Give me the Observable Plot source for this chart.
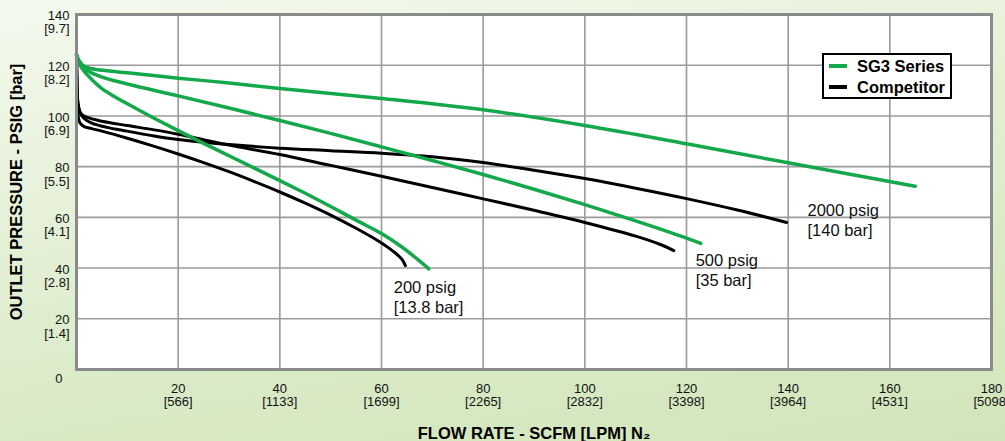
<!DOCTYPE html>
<html>
<head>
<meta charset="utf-8">
<script src="https://cdn.jsdelivr.net/npm/d3@7"></script>
<script src="https://cdn.jsdelivr.net/npm/@observablehq/plot@0.6"></script>
<style>
  html, body { margin: 0; padding: 0; width: 1005px; height: 441px; overflow: hidden; }
  body {
    position: relative;
    font-family: "Liberation Sans", Arial, sans-serif;
    background: linear-gradient(170deg, #f4f9ee 0%, #e6f1d9 35%, #d9eac6 70%, #d1e5ba 100%);
  }
  #chart { position: absolute; left: 0; top: 0; }
  #legend {
    position: absolute; left: 822px; top: 53px; width: 126px; height: 42px;
    background: #fff; border: 2px solid #000; box-sizing: content-box;
  }
  .row { position: absolute; left: 0; height: 20px; width: 126px; }
  .swatch { position: absolute; left: 5px; top: 8px; width: 18px; height: 3.5px; }
  .lbl { position: absolute; left: 33px; top: 0; font-weight: bold; font-size: 16.5px; line-height: 20px; color: #000; white-space: nowrap; }
</style>
</head>
<body>
<div id="chart"></div>
<div id="legend">
  <div class="row" style="top:1px"><div class="swatch" style="background:#14a84b"></div><div class="lbl">SG3 Series</div></div>
  <div class="row" style="top:22px"><div class="swatch" style="background:#000"></div><div class="lbl">Competitor</div></div>
</div>
<script>
// ---- Tick labels ----
const xTicks = [20, 40, 60, 80, 100, 120, 140, 160, 180];
const xLpm = ["566", "1133", "1699", "2265", "2832", "3398", "3964", "4531", "5098"];
const yTicks = [20, 40, 60, 80, 100, 120, 140];
const yBar = ["1.4", "2.8", "4.1", "5.5", "6.9", "8.2", "9.7"];
const xGrid = [20, 40, 60, 80, 100, 120, 140, 160];
const yGrid = [20, 40, 60, 80, 100, 120];

// ---- Series (flow SCFM, outlet pressure PSIG) ----
const sg3_2000 = [[0,124.2],[0.5,121.8],[1.5,119.6],[3,118.6],[6,117.8],[10,117],[20,114.9],[30,113],[40,110.8],[60,106.9],[80,102.4],[100,96.2],[120,89],[140,81.5],[165,72.3]];
const sg3_500 = [[0,124.2],[0.6,120.8],[2,118],[5,115.3],[10,112.6],[20,107.9],[30,103.1],[40,98.2],[50,93.1],[60,87.8],[70,82.4],[80,76.9],[90,71.1],[100,65],[110,58.6],[120,51.8],[122.8,49.7]];
const sg3_200 = [[0,124.2],[0.6,120.5],[1.5,117.6],[3,114.4],[5,110.8],[7.5,107.6],[10,104.8],[15,99.4],[20,94.2],[25,89.2],[30,84.3],[35,79.4],[40,74.5],[45,69.5],[50,64.3],[55,58.9],[60,53.6],[64,48.3],[67,43.6],[69.3,39.7]];
const comp_2000 = [[0,124],[0.08,115],[0.25,106],[0.7,101.5],[1.5,99],[3,97.2],[6,95.5],[10,94],[15,92.2],[20,90.7],[25,89.6],[30,88.7],[40,87.3],[50,86.3],[60,85.3],[70,83.9],[80,81.6],[90,78.6],[100,75.3],[110,71.5],[120,67.4],[130,62.9],[139.7,58]];
const comp_500 = [[0,124],[0.08,114],[0.25,105],[0.8,101],[2,99.5],[5,97.9],[10,96.2],[15,94.6],[20,92.8],[25,90.6],[30,88.5],[40,84.8],[50,80.5],[60,76.2],[70,71.8],[80,67.3],[90,62.8],[100,58],[110,52.6],[115,49.2],[117.5,46.9]];
const comp_200 = [[0,124],[0.08,112],[0.25,101],[0.7,97.2],[1.5,95.8],[3,95],[5,94],[10,91.2],[15,88.2],[20,85],[25,81.6],[30,78],[35,74.1],[40,70],[45,65.6],[50,60.9],[55,55.7],[60,49.9],[62.5,46.3],[64,43.5],[64.7,41]];

// ---- Annotations ----
const annoText = ["2000 psig\n[140 bar]", "500 psig\n[35 bar]", "200 psig\n[13.8 bar]"];
const annoX = [143.8, 121.8, 62.4];
const annoY = [65.9, 46.3, 35.8];

const yTitle = "OUTLET PRESSURE - PSIG [bar]";
const xTitle = "FLOW RATE - SCFM [LPM] N₂";

function toRows(arr, series, pressure) {
  return arr.map(([x, y]) => ({x, y, series, pressure}));
}
const sg3Rows = [
  ...toRows(sg3_2000, "SG3 Series", "2000"),
  ...toRows(sg3_500, "SG3 Series", "500"),
  ...toRows(sg3_200, "SG3 Series", "200")
];
const compRows = [
  ...toRows(comp_2000, "Competitor", "2000"),
  ...toRows(comp_500, "Competitor", "500"),
  ...toRows(comp_200, "Competitor", "200")
];
const annos = annoText.map((t, i) => ({text: t, x: annoX[i], y: annoY[i]}));

const green = "#14a84b";
const gridColor = "#9b9b9b";

const chart = Plot.plot({
  width: 1005,
  height: 441,
  marginLeft: 76,
  marginRight: 14,
  marginTop: 14,
  marginBottom: 72,
  x: {domain: [0, 180]},
  y: {domain: [0, 140]},
  style: {background: "transparent", fontFamily: "'Liberation Sans', Arial, sans-serif", color: "#111"},
  marks: [
    Plot.frame({fill: "white"}),
    Plot.gridX(xGrid, {stroke: gridColor, strokeOpacity: 1, strokeWidth: 1.6}),
    Plot.gridY(yGrid, {stroke: gridColor, strokeOpacity: 1, strokeWidth: 1.6}),
    Plot.line(compRows, {x: "x", y: "y", z: "pressure", stroke: "#000", strokeWidth: 3, curve: "catmull-rom"}),
    Plot.line(sg3Rows, {x: "x", y: "y", z: "pressure", stroke: green, strokeWidth: 3.5, curve: "catmull-rom"}),
    Plot.frame({stroke: "#8a8a8a", strokeWidth: 3}),
    Plot.axisX(xTicks, {
      tickSize: 0, tickPadding: 14, fontSize: 13, lineHeight: 1, label: null,
      tickFormat: (d) => `${d}\n[${xLpm[xTicks.indexOf(d)]}]`
    }),
    Plot.axisY(yTicks, {
      tickSize: 0, tickPadding: 7, fontSize: 13, lineHeight: 1.03, dy: 8, label: null,
      tickFormat: (d) => `${d}\n[${yBar[yTicks.indexOf(d)]}]`
    }),
    Plot.axisY([0], {tickSize: 0, tickPadding: 14, fontSize: 13, dy: 9, label: null, tickFormat: (d) => `${d}`}),
    Plot.text(annos, {x: "x", y: "y", text: "text", textAnchor: "start", lineAnchor: "top", fontSize: 16.5, lineHeight: 1.2, fill: "#111"}),
    Plot.text([yTitle], {text: (d) => d, frameAnchor: "left", textAnchor: "middle", lineAnchor: "middle", dx: -60, rotate: -90, fontWeight: "bold", fontSize: 16.5, fill: "#000"}),
    Plot.text([xTitle], {text: (d) => d, frameAnchor: "bottom", textAnchor: "middle", dy: 69, lineAnchor: "bottom", fontWeight: "bold", fontSize: 16.5, fill: "#000"})
  ]
});
document.getElementById("chart").appendChild(chart);
</script>
</body>
</html>
